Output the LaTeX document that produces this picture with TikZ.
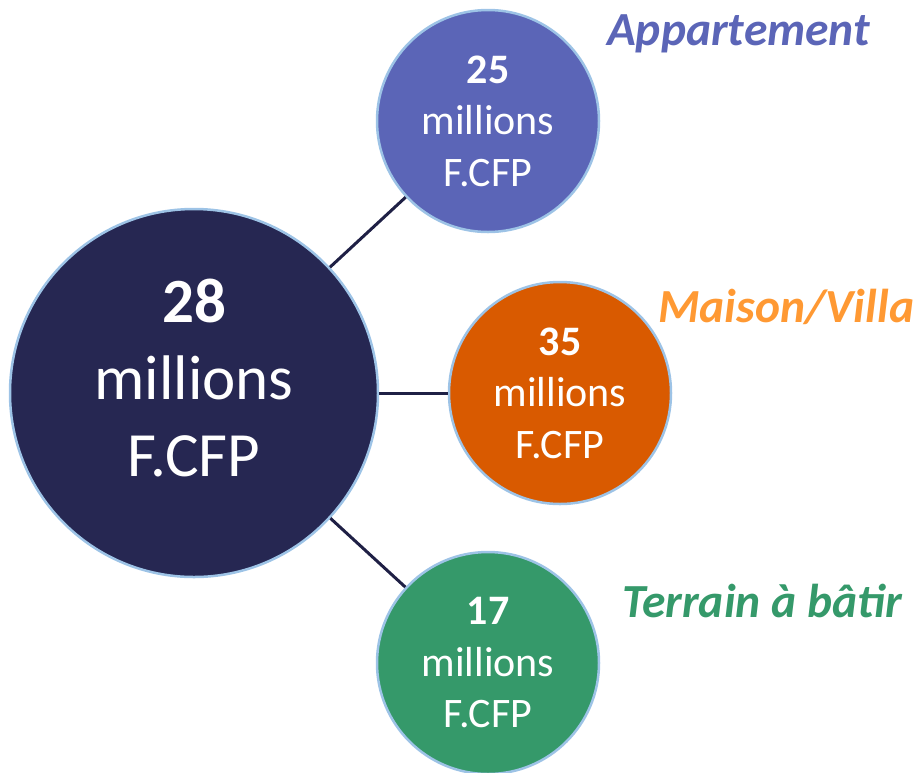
\documentclass[tikz,border=0pt]{standalone}
\usepackage{fontspec}
\setmainfont{Carlito}

\definecolor{navyFill}{HTML}{262752}
\definecolor{appartBlue}{HTML}{5B65B7}
\definecolor{maisonOrange}{HTML}{D95A00}
\definecolor{maisonLabel}{HTML}{FF9933}
\definecolor{terrainGreen}{HTML}{35996A}
\definecolor{edgeBlue}{HTML}{9DC3E6}
\definecolor{linkNavy}{HTML}{1F2045}

\begin{document}
\begin{tikzpicture}
[x=1pt, y=-1pt,%
  bubble/.style={circle, draw=edgeBlue, line width=2.5pt, inner sep=0pt,
    text=white, align=center},
  bigBubble/.style={bubble, minimum size=368pt,
    font=\fontsize{63}{77}\selectfont},
  smallBubble/.style={bubble, minimum size=222pt,
    font=\fontsize{42}{51.5}\selectfont},
  typeLabel/.style={anchor=base west, inner sep=0pt,
    font=\fontsize{47.5}{55}\selectfont\bfseries\itshape},
  linkLine/.style={-, line width=3pt, draw=linkNavy}]
\useasboundingbox (0,0) rectangle (917,772);
%% average price in the middle
\node (total) at (194,393) [bigBubble, fill=navyFill]
  {\textbf{28}\\millions\\F.CFP\rule[-0.5em]{0pt}{0pt}};
%% one bubble per type of property
\foreach \nodename/\price/\colour/\x/\y in {
  appart/25/appartBlue/488/121, maison/35/maisonOrange/560/393,
  terrain/17/terrainGreen/488/663}
{
  \node (\nodename) at (\x,\y) [smallBubble, fill=\colour]
    {\textbf{\price}\\millions\\F.CFP};
}
%% links from the middle
\path
\foreach \endnode in {appart, maison, terrain}
{
  (total) edge[linkLine] (\endnode)
};
%% type labels
\node (appartText) at (607,45) [typeLabel, text=appartBlue] {Appartement};
\node (maisonText) at (658,322) [typeLabel, text=maisonLabel] {Maison/Villa};
\node (terrainText) at (622,617) [typeLabel, text=terrainGreen] {Terrain à bâtir};
\end{tikzpicture}
\end{document}
